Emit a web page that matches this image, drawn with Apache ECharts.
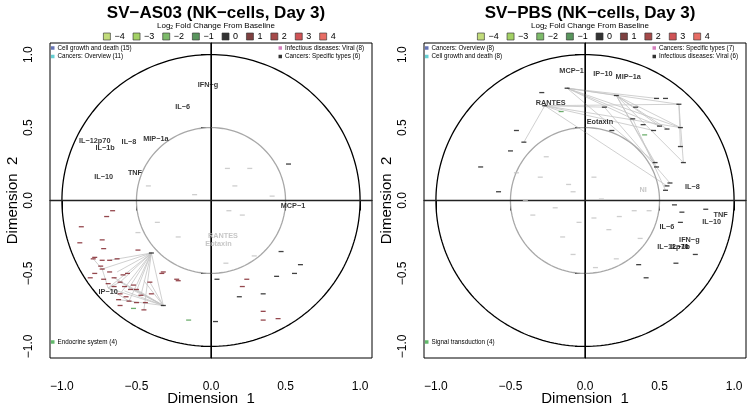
<!DOCTYPE html>
<html>
<head>
<meta charset="utf-8">
<script src="https://cdn.jsdelivr.net/npm/echarts@6/dist/echarts.min.js"></script>
<style>
  html, body { margin: 0; padding: 0; background: #fff; }
  #main { width: 747px; height: 408px; }
</style>
</head>
<body>
<div id="main"></div>
<script>
// axis ticks and fold-change scale
var ticks = [-1, -0.5, 0, 0.5, 1];
var fcLevels = ['\u22124', '\u22123', '\u22122', '\u22121', '0', '1', '2', '3', '4'];
var fcColors = ['#b3d35a', '#8cc63f', '#5daa45', '#2f7a34', '#000000', '#5c1010', '#8e1b1b', '#c4282c', '#e2483f'];

// SV-AS03 panel
var asTitle = 'SV\u2212AS03 (NK\u2212cells, Day 3)';
var asNames = ['IFN\u2212g', 'IL\u22126', 'IL\u221212p70', 'IL\u22121b', 'IL\u22128', 'MIP\u22121a', 'TNF', 'IL\u221210', 'MCP\u22121', 'IP\u221210'];
var asX = [-0.02, -0.19, -0.78, -0.71, -0.55, -0.37, -0.51, -0.72, 0.55, -0.69];
var asY = [0.79, 0.64, 0.41, 0.36, 0.40, 0.42, 0.19, 0.16, -0.04, -0.63];
var asFaintNames = ['RANTES', 'Eotaxin'];
var asFaintX = [0.08, 0.05];
var asFaintY = [-0.24, -0.30];
var asPathTL = ['Cell growth and death (15)', 'Cancers: Overview (11)'];
var asPathTR = ['Infectious diseases: Viral (8)', 'Cancers: Specific types (6)'];
var asPathBL = ['Endocrine system (4)'];
var asRed = [[-0.66, -0.07], [-0.70, -0.11], [-0.87, -0.18], [0.24, -0.54], [0.21, -0.59], [0.35, -0.76], [0.45, -0.81],
  [0.35, -0.82], [-0.22, -0.55], [-0.32, -0.49], [-0.49, -0.34], [-0.73, -0.27], [-0.88, -0.29],
  [-0.78, -0.39], [-0.73, -0.41], [-0.79, -0.40], [-0.68, -0.41], [-0.63, -0.40], [-0.74, -0.45], [-0.73, -0.47],
  [-0.78, -0.50], [-0.68, -0.49], [-0.81, -0.53], [-0.72, -0.54], [-0.65, -0.53], [-0.59, -0.51], [-0.56, -0.50],
  [-0.61, -0.56], [-0.69, -0.57], [-0.65, -0.59], [-0.58, -0.59], [-0.54, -0.61], [-0.61, -0.64], [-0.50, -0.61],
  [-0.47, -0.65], [-0.62, -0.68], [-0.55, -0.69], [-0.50, -0.70], [-0.45, -0.75], [-0.61, -0.72], [-0.40, -0.64],
  [-0.41, -0.56], [-0.33, -0.50], [-0.23, -0.54], [-0.72, -0.33], [-0.52, -0.58], [-0.57, -0.66], [-0.44, -0.70]];
var asBlack = [[0.52, 0.25], [0.47, -0.35], [0.60, -0.44], [0.04, -0.54], [0.44, -0.52], [0.56, -0.50], [0.35, -0.64],
  [0.19, -0.66], [0.03, -0.83], [-0.40, -0.36], [-0.32, -0.72]];
var asGray = [[0.11, 0.22], [0.26, 0.22], [-0.42, 0.10], [0.16, 0.10], [-0.11, 0.04], [0.41, 0.03], [0.12, -0.07],
  [0.21, -0.10], [-0.36, -0.15], [0.10, -0.43], [0.29, -0.38], [-0.49, -0.22], [-0.22, -0.25]];
var asGreen = [[-0.15, -0.82], [-0.52, -0.74]];
var asEdges = [
  [[-0.40, -0.36], [-0.68, -0.41]], [[-0.40, -0.36], [-0.63, -0.49]], [[-0.40, -0.36], [-0.61, -0.56]],
  [[-0.40, -0.36], [-0.55, -0.60]], [[-0.40, -0.36], [-0.50, -0.62]], [[-0.40, -0.36], [-0.47, -0.65]],
  [[-0.40, -0.36], [-0.55, -0.69]], [[-0.40, -0.36], [-0.45, -0.75]], [[-0.40, -0.36], [-0.61, -0.64]],
  [[-0.40, -0.36], [-0.32, -0.72]], [[-0.40, -0.36], [-0.73, -0.47]], [[-0.40, -0.36], [-0.69, -0.60]],
  [[-0.32, -0.72], [-0.61, -0.56]], [[-0.32, -0.72], [-0.55, -0.60]], [[-0.32, -0.72], [-0.58, -0.62]],
  [[-0.32, -0.72], [-0.50, -0.61]], [[-0.32, -0.72], [-0.62, -0.68]], [[-0.32, -0.72], [-0.69, -0.60]],
  [[-0.32, -0.72], [-0.45, -0.55]], [[-0.32, -0.72], [-0.41, -0.56]], [[-0.32, -0.72], [-0.65, -0.53]],
  [[-0.73, -0.47], [-0.79, -0.40]], [[-0.73, -0.47], [-0.69, -0.60]], [[-0.69, -0.60], [-0.61, -0.56]],
  [[-0.69, -0.60], [-0.55, -0.69]]];

// SV-PBS panel
var pbsTitle = 'SV\u2212PBS (NK\u2212cells, Day 3)';
var pbsNames = ['MCP\u22121', 'IP\u221210', 'MIP\u22121a', 'RANTES', 'Eotaxin', 'IL\u22128', 'TNF', 'IL\u221210', 'IL\u22126', 'IFN\u2212g', 'IL\u221212p70', 'IL\u22121b'];
var pbsX = [-0.09, 0.12, 0.29, -0.23, 0.10, 0.72, 0.91, 0.85, 0.55, 0.70, 0.59, 0.64];
var pbsY = [0.89, 0.87, 0.85, 0.67, 0.54, 0.09, -0.10, -0.15, -0.18, -0.27, -0.32, -0.32];
var pbsFaintNames = ['NI'];
var pbsFaintX = [0.39];
var pbsFaintY = [0.07];
var pbsPathTL = ['Cancers: Overview (8)', 'Cell growth and death (8)'];
var pbsPathTR = ['Cancers: Specific types (7)', 'Infectious diseases: Viral (6)'];
var pbsPathBL = ['Signal transduction (4)'];
var pbsBlack = [[-0.29, 0.74], [-0.12, 0.77], [-0.27, 0.65], [-0.46, 0.48], [-0.41, 0.40], [-0.50, 0.34], [-0.70, 0.23],
  [-0.58, 0.06], [0.21, 0.72], [0.34, 0.64], [0.13, 0.64], [0.48, 0.70], [0.54, 0.70], [0.63, 0.66], [0.32, 0.56],
  [0.39, 0.52], [0.50, 0.51], [0.64, 0.50], [0.55, 0.49], [0.46, 0.48], [0.18, 0.48], [0.64, 0.37], [0.66, 0.26],
  [0.47, 0.26], [0.48, 0.23], [0.57, 0.12], [0.55, 0.10], [0.54, 0.07], [0.60, -0.03], [0.65, -0.08], [0.81, -0.06],
  [0.64, -0.15], [0.74, -0.37], [0.61, -0.43], [0.36, -0.44], [0.41, -0.53]];
var pbsGray = [[-0.46, 0.19], [0.06, 0.16], [-0.11, 0.11], [-0.26, 0.30], [-0.08, 0.06], [0.11, 0.01], [0.33, -0.07],
  [0.43, -0.07], [0.23, -0.11], [0.06, -0.12], [-0.04, -0.15], [0.16, -0.20], [0.37, -0.26], [-0.08, -0.37],
  [0.21, -0.40], [0.07, -0.46], [-0.30, 0.16], [-0.20, -0.05], [-0.35, -0.10], [-0.15, -0.25], [-0.40, 0.00]];
var pbsGreen = [[-0.16, 0.61], [0.40, 0.45]];
var pbsEdges = [
  [[-0.12, 0.77], [0.21, 0.72]], [[-0.12, 0.77], [0.48, 0.70]], [[-0.12, 0.77], [0.63, 0.66]],
  [[-0.12, 0.77], [0.64, 0.50]], [[-0.12, 0.77], [0.50, 0.51]], [[-0.12, 0.77], [0.32, 0.56]],
  [[-0.12, 0.77], [0.47, 0.26]], [[-0.27, 0.65], [0.63, 0.66]], [[-0.27, 0.65], [0.64, 0.50]],
  [[-0.27, 0.65], [0.46, 0.48]], [[-0.27, 0.65], [0.13, 0.64]], [[-0.27, 0.65], [-0.16, 0.61]],
  [[-0.27, 0.65], [-0.41, 0.40]], [[-0.27, 0.65], [0.55, 0.10]], [[0.21, 0.72], [0.64, 0.50]],
  [[0.21, 0.72], [0.50, 0.51]], [[0.21, 0.72], [0.55, 0.49]], [[0.21, 0.72], [0.47, 0.26]],
  [[0.21, 0.72], [0.48, 0.23]], [[0.21, 0.72], [0.66, 0.26]], [[0.63, 0.66], [0.64, 0.37]],
  [[0.13, 0.64], [0.57, 0.12]], [[0.32, 0.56], [0.54, 0.07]], [[0.63, 0.66], [0.66, 0.26]]];

var pathColors = { tl: ['#3f51a5', '#3fc4c8'], tr: ['#cc5fae', '#000000'], bl: ['#3aa845'] };
var FONT = '"Liberation Sans", Arial, sans-serif';

function minus(v) {
    return v.toFixed(1).replace('-', '\u2212');
}

function circle(r) {
    var pts = [];
    for (var i = 0; i <= 240; i++) {
        var a = i / 240 * Math.PI * 2;
        pts.push([r * Math.cos(a), r * Math.sin(a)]);
    }
    return pts;
}

function edgeData(edges) {
    var out = [];
    edges.forEach(function (e) {
        out.push(e[0], e[1], ['-', '-']);
    });
    return out;
}

function labelData(names, xs, ys) {
    return names.map(function (n, i) {
        return { name: n, value: [xs[i], ys[i]] };
    });
}

function panelSeries(idx, p) {
    var s = [];
    var ax = { xAxisIndex: idx, yAxisIndex: idx };
    s.push(Object.assign({
        type: 'line', data: edgeData(p.edges), symbol: 'none', connectNulls: false,
        lineStyle: { color: '#c4c4c4', width: 0.8 }, z: 2
    }, ax));
    s.push(Object.assign({
        type: 'line', data: circle(1), symbol: 'none', smooth: false,
        lineStyle: { color: '#000', width: 1.3 }, z: 3
    }, ax));
    s.push(Object.assign({
        type: 'line', data: circle(0.5), symbol: 'none',
        lineStyle: { color: '#a8a8a8', width: 1.3 }, z: 3
    }, ax));
    s.push(Object.assign({
        type: 'line', data: [[0, -1.08], [0, 1.08]], symbol: 'none',
        lineStyle: { color: '#000', width: 1.3 }, z: 3
    }, ax));
    s.push(Object.assign({
        type: 'line', data: [[-1.08, 0], [1.08, 0]], symbol: 'none',
        lineStyle: { color: '#222', width: 1.3 }, z: 3
    }, ax));
    var dashes = [[p.gray, '#c2c2c2'], [p.red, '#7a1a22'], [p.black, '#111'], [p.green, '#4a9a4a']];
    dashes.forEach(function (d) {
        s.push(Object.assign({
            type: 'scatter', data: d[0], symbol: 'rect', symbolSize: [5, 1.3],
            itemStyle: { color: d[1] }, z: 4
        }, ax));
    });
    s.push(Object.assign({
        type: 'scatter', data: labelData(p.names, p.x, p.y), symbolSize: 1,
        itemStyle: { color: 'rgba(0,0,0,0)' },
        label: { show: true, position: 'inside', formatter: '{b}', fontFamily: FONT, fontSize: 7.3, fontWeight: 'bold', color: '#000' },
        z: 6
    }, ax));
    s.push(Object.assign({
        type: 'scatter', data: labelData(p.faintNames, p.faintX, p.faintY), symbolSize: 1,
        itemStyle: { color: 'rgba(0,0,0,0)' },
        label: { show: true, position: 'inside', formatter: '{b}', fontFamily: FONT, fontSize: 7.3, fontWeight: 'bold', color: '#b8b8b8' },
        z: 5
    }, ax));
    return s;
}

var panels = [
    { title: asTitle, names: asNames, x: asX, y: asY, faintNames: asFaintNames, faintX: asFaintX, faintY: asFaintY,
      red: asRed, black: asBlack, gray: asGray, green: asGreen, edges: asEdges,
      tl: asPathTL, tr: asPathTR, bl: asPathBL },
    { title: pbsTitle, names: pbsNames, x: pbsX, y: pbsY, faintNames: pbsFaintNames, faintX: pbsFaintX, faintY: pbsFaintY,
      red: [], black: pbsBlack, gray: pbsGray, green: pbsGreen, edges: pbsEdges,
      tl: pbsPathTL, tr: pbsPathTR, bl: pbsPathBL }
];

var offsets = [0, 374];
var grids = [], xAxes = [], yAxes = [], titles = [], legends = [], series = [];

// legend-only series for the colour key and pathway boxes
fcLevels.forEach(function (n, i) {
    series.push({ type: 'scatter', name: n, data: [], itemStyle: { color: fcColors[i] } });
});

panels.forEach(function (p, i) {
    var off = offsets[i];
    grids.push({ left: 50 + off, top: 43, width: 322, height: 315, show: true, borderColor: '#000', borderWidth: 1,
        backgroundColor: 'transparent', outerBoundsMode: 'none', containLabel: false });
    xAxes.push({
        type: 'value', gridIndex: i, min: -1.08, max: 1.08,
        name: 'Dimension  1', nameLocation: 'middle', nameGap: 33, nameMoveOverlap: false,
        nameTextStyle: { fontFamily: FONT, fontSize: 15, color: '#000' },
        axisLine: { show: true, lineStyle: { color: '#000', width: 1 } },
        axisTick: { show: true, length: 10, customValues: ticks, lineStyle: { color: '#000', width: 1 } },
        axisLabel: { customValues: ticks, formatter: minus, fontFamily: FONT, fontSize: 12, color: '#000', margin: 23 },
        splitLine: { show: false }
    });
    yAxes.push({
        type: 'value', gridIndex: i, min: -1.08, max: 1.08,
        name: 'Dimension  2', nameLocation: 'middle', nameGap: 30, nameRotate: 90, nameMoveOverlap: false,
        nameTextStyle: { fontFamily: FONT, fontSize: 15, color: '#000' },
        axisLine: { show: true, lineStyle: { color: '#000', width: 1 } },
        axisTick: { show: true, length: 10, customValues: ticks, lineStyle: { color: '#000', width: 1 } },
        axisLabel: { customValues: ticks, formatter: minus, rotate: 90, fontFamily: FONT, fontSize: 12, color: '#000', margin: 15 },
        splitLine: { show: false }
    });
    titles.push({
        text: p.title, left: 211 + off, top: 0, textAlign: 'center',
        textStyle: { fontFamily: FONT, fontSize: 17, fontWeight: 'bold', color: '#000' }
    });
    titles.push({
        text: 'Log{s|2} Fold Change From Baseline', left: 211 + off, top: 16, textAlign: 'center',
        textStyle: { fontFamily: FONT, fontSize: 8, fontWeight: 'normal', color: '#000',
            rich: { s: { fontSize: 5, verticalAlign: 'bottom', padding: [4, 0, 0, 0], fontFamily: FONT } } }
    });
    legends.push({
        data: fcLevels, left: 98 + off, top: 27, itemWidth: 7, itemHeight: 7, itemGap: 8, icon: 'rect',
        selectedMode: false, itemStyle: { borderColor: '#333', borderWidth: 0.8 },
        textStyle: { fontFamily: FONT, fontSize: 9, color: '#000', padding: [0, 0, 0, -1] }
    });
    var corners = [['tl', { left: 51 + off, top: 45 }], ['tr', { right: 383 - off, top: 45 }], ['bl', { left: 51 + off, top: 339 }]];
    corners.forEach(function (c) {
        var names = p[c[0]];
        names.forEach(function (n, k) {
            series.push({ type: 'scatter', name: n, data: [], itemStyle: { color: pathColors[c[0]][k] } });
        });
        legends.push(Object.assign({
            data: names, orient: 'vertical', align: 'left', padding: 0, itemWidth: 3.5, itemHeight: 3.5, itemGap: 2.5, icon: 'rect',
            selectedMode: false, textStyle: { fontFamily: FONT, fontSize: 6.3, color: '#000', padding: [0, 0, 0, -2] }
        }, c[1]));
    });
    series = series.concat(panelSeries(i, p));
});

var chart = echarts.init(document.getElementById('main'));
chart.setOption({
    animation: false,
    backgroundColor: '#fff',
    title: titles,
    legend: legends,
    grid: grids,
    xAxis: xAxes,
    yAxis: yAxes,
    series: series
});
</script>
</body>
</html>
